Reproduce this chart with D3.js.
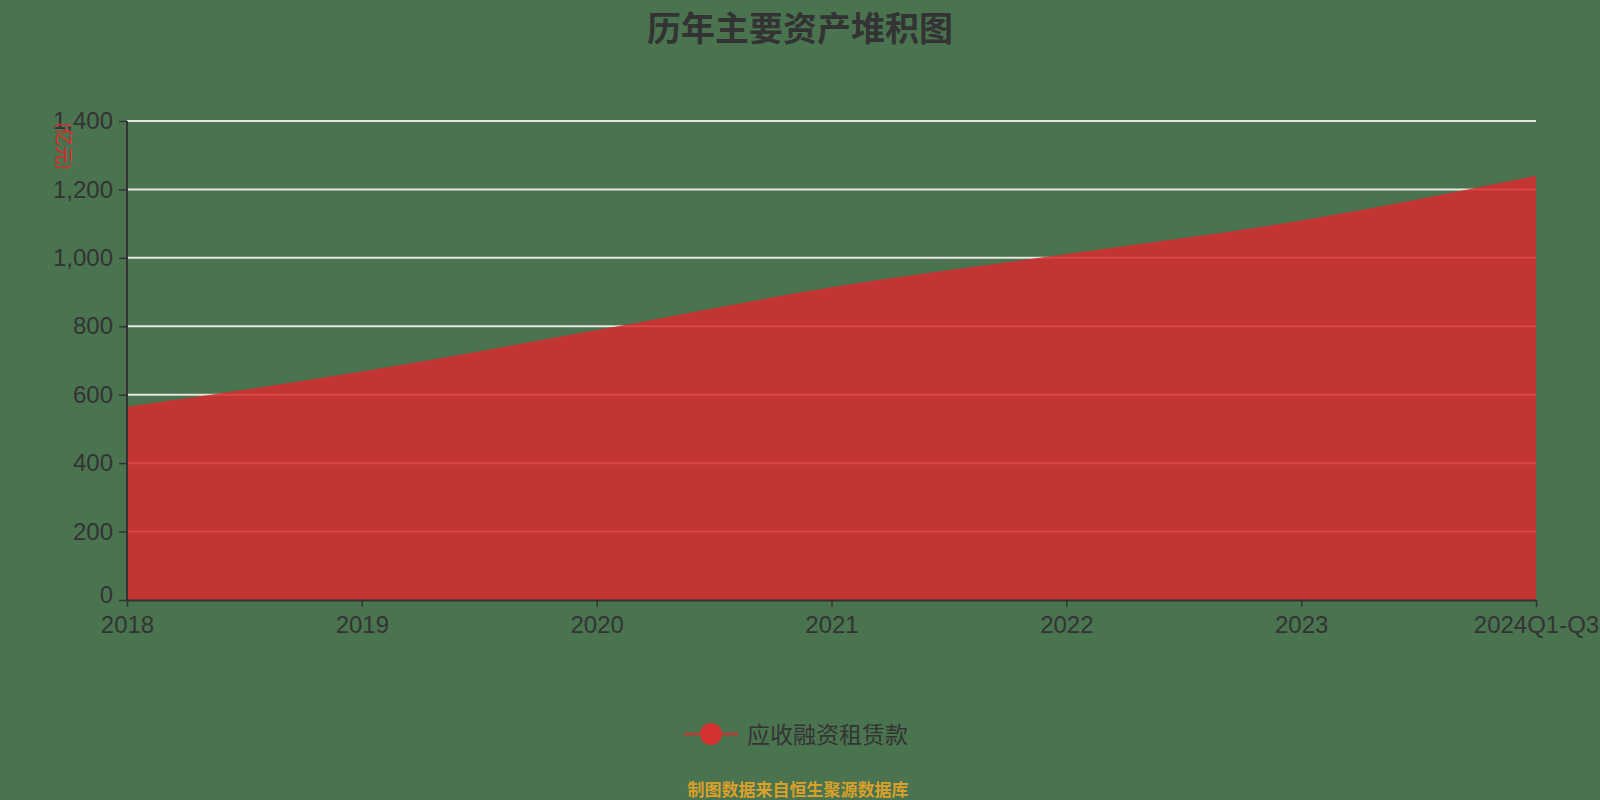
<!DOCTYPE html>
<html lang="zh">
<head>
  <meta charset="UTF-8">
  <title>历年主要资产堆积图</title>
  <script src="https://cdn.jsdelivr.net/npm/d3@7/dist/d3.min.js"></script>
  <style>
    body { margin: 0; background: #4a7350; }
    svg { display: block; font-family: "Noto Sans CJK SC", "Noto Sans", sans-serif; }
    .tick text { fill: #333; font-size: 24px; }
  </style>
</head>
<body>
  <svg id="chart"></svg>
  <script>
    const years = ["2018", "2019", "2020", "2021", "2022", "2023", "2024Q1-Q3"];
    const receivables = [565, 668, 789, 914, 1011, 1109, 1240];
    const yTicks = [0, 200, 400, 600, 800, 1000, 1200, 1400];
    const seriesName = "应收融资租赁款";

    const width = 1600, height = 800;
    const margin = { top: 121, right: 64, bottom: 200, left: 127 };

    const svg = d3.select("#chart").attr("width", width).attr("height", height);

    const x = d3.scalePoint().domain(years).range([margin.left, width - margin.right]);
    const y = d3.scaleLinear().domain([0, 1400]).range([height - margin.bottom, margin.top]);

    // grid lines
    svg.append("g")
      .selectAll("line")
      .data(yTicks.filter(d => d > 0))
      .enter().append("line")
      .attr("x1", margin.left)
      .attr("x2", width - margin.right)
      .attr("y1", d => y(d))
      .attr("y2", d => y(d))
      .attr("stroke", "#e6e6dc")
      .attr("stroke-width", 2);

    const data = years.map((yr, i) => ({ yr, v: receivables[i] }));

    const area = d3.area()
      .x(d => x(d.yr))
      .y0(y(0))
      .y1(d => y(d.v))
      .curve(d3.curveMonotoneX);

    svg.append("path")
      .datum(data)
      .attr("d", area)
      .attr("fill", "#d72b2d")
      .attr("fill-opacity", 0.86);

    // axes
    const yAxis = svg.append("g")
      .attr("transform", `translate(${margin.left},0)`)
      .call(d3.axisLeft(y).tickValues(yTicks).tickSize(8).tickPadding(6).tickFormat(d3.format(",")));

    const xAxis = svg.append("g")
      .attr("transform", `translate(0,${y(0)})`)
      .call(d3.axisBottom(x).tickSize(7).tickPadding(9).tickSizeOuter(0));

    [yAxis, xAxis].forEach(g => {
      g.selectAll(".domain").attr("stroke", "#333").attr("stroke-width", 2);
      g.selectAll(".tick line").attr("stroke", "#333").attr("stroke-width", 1.5);
    });
    yAxis.select(".domain").attr("d", `M0,${y(1400)}V${y(0)}`);
    // the "0" label sits just above the x labels, nudge it up a little
    yAxis.selectAll(".tick text").filter(d => d === 0).attr("dy", "0.12em");

    // unit label
    svg.append("text")
      .attr("transform", `translate(57,146) rotate(90)`)
      .attr("text-anchor", "middle")
      .attr("fill", "#e8232a")
      .attr("font-size", 18)
      .text("(亿元)");

    // title
    svg.append("text")
      .attr("x", 800)
      .attr("y", 41)
      .attr("text-anchor", "middle")
      .attr("fill", "#333")
      .attr("font-size", 34)
      .attr("font-weight", "bold")
      .text("历年主要资产堆积图");

    // legend
    const legend = svg.append("g").attr("transform", "translate(711,734)");
    legend.append("line")
      .attr("x1", -27).attr("x2", 27)
      .attr("stroke", "#d72b2d").attr("stroke-width", 2);
    legend.append("circle")
      .attr("r", 11)
      .attr("fill", "#d23230");
    legend.append("text")
      .attr("x", 36)
      .attr("y", 9)
      .attr("fill", "#333")
      .attr("font-size", 23)
      .text(seriesName);

    // source note
    svg.append("text")
      .attr("x", 798)
      .attr("y", 796)
      .attr("text-anchor", "middle")
      .attr("fill", "#d9a02a")
      .attr("font-size", 17)
      .attr("font-weight", "bold")
      .text("制图数据来自恒生聚源数据库");
  </script>
</body>
</html>
